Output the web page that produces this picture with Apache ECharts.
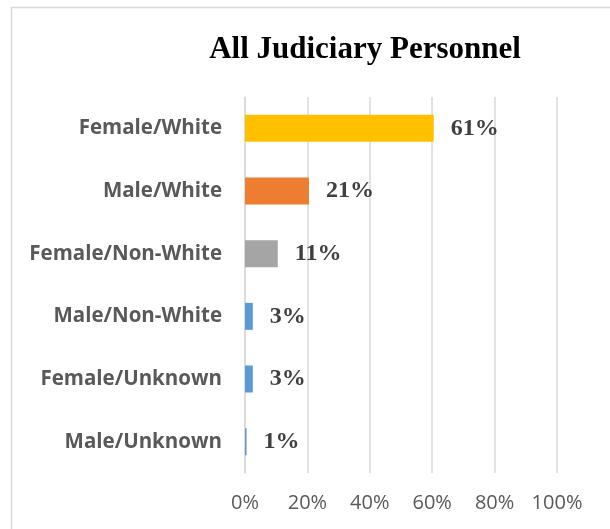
<!DOCTYPE html>
<html>
<head>
<meta charset="utf-8">
<script src="https://cdn.jsdelivr.net/npm/echarts@6/dist/echarts.min.js"></script>
<style>
  html, body { margin: 0; padding: 0; background: #fff; }
  #chart { width: 610px; height: 529px; }
</style>
</head>
<body>
<div id="chart"></div>
<script>
const categories = [
  "Female/White",
  "Male/White",
  "Female/Non-White",
  "Male/Non-White",
  "Female/Unknown",
  "Male/Unknown",
];
// percent shares (labels show the rounded value)
const shares = [60.5, 20.5, 10.5, 2.5, 2.5, 0.5];
const barColors = ["#FFC000", "#ED7D31", "#A5A5A5", "#5B9BD5", "#5B9BD5", "#5B9BD5"];
const xTicks = [0, 20, 40, 60, 80, 100];

const chart = echarts.init(document.getElementById("chart"));

chart.setOption({
  animation: false,
  graphic: [
    {
      type: "rect",
      shape: { x: 11.5, y: 7.5, width: 700, height: 600 },
      style: { fill: "none", stroke: "#d9d9d9", lineWidth: 1.5 },
      silent: true,
    },
  ],
  title: {
    text: "All Judiciary Personnel",
    left: 360,
    top: 29,
    textAlign: "center",
    textStyle: {
      fontFamily: "Liberation Serif",
      fontWeight: "bold",
      fontSize: 31,
      color: "#000",
    },
  },
  grid: { left: 245, right: 53, top: 97, bottom: 56 },
  xAxis: {
    type: "value",
    min: xTicks[0],
    max: xTicks[xTicks.length - 1],
    interval: 20,
    axisLine: { show: false },
    axisTick: { show: false },
    splitLine: { lineStyle: { color: "#d9d9d9", width: 1.5 } },
    axisLabel: {
      formatter: "{value}%",
      margin: 20,
      fontFamily: "Open Sans",
      fontSize: 20,
      color: "#595959",
    },
  },
  yAxis: {
    type: "category",
    data: categories,
    inverse: true,
    axisLine: { lineStyle: { color: "#d9d9d9", width: 1.5 } },
    axisTick: { length: 7, lineStyle: { color: "#d9d9d9", width: 1.5 } },
    axisLabel: {
      margin: 23,
      fontFamily: "Open Sans",
      fontWeight: "bold",
      fontSize: 20.5,
      color: "#595959",
    },
  },
  series: [
    {
      type: "bar",
      barWidth: 27,
      data: shares.map((v, i) => ({ value: v, itemStyle: { color: barColors[i] } })),
      label: {
        show: true,
        position: "right",
        distance: 17,
        formatter: (p) => Math.round(p.value) + "%",
        fontFamily: "Liberation Serif",
        fontWeight: "bold",
        fontSize: 24,
        color: "#404040",
      },
    },
  ],
});
</script>
</body>
</html>
